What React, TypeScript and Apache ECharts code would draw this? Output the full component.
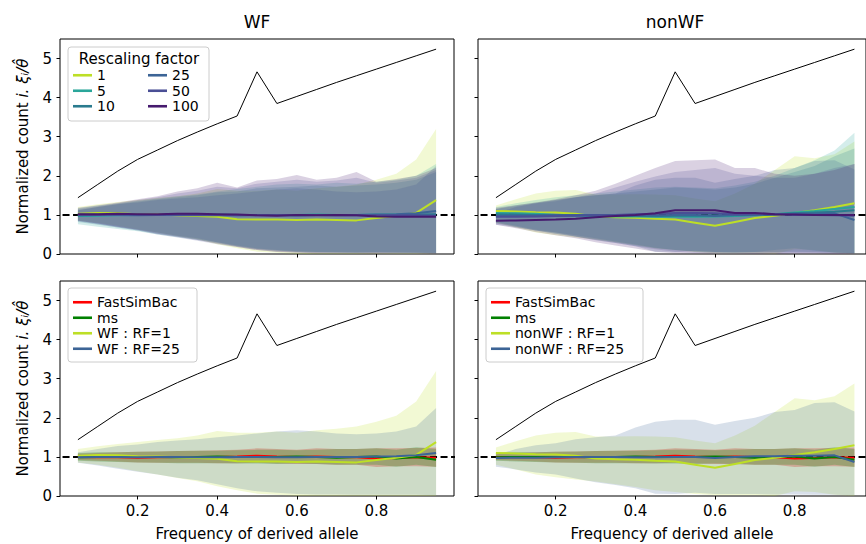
import React, { useEffect, useRef } from "react";
import * as echarts from "echarts";

// ---------- data ----------
const X = [0.05, 0.1, 0.15, 0.2, 0.25, 0.3, 0.35, 0.4, 0.45, 0.5, 0.55, 0.6, 0.65, 0.7, 0.75, 0.8, 0.85, 0.9, 0.95];
const X_TICKS = [0.2, 0.4, 0.6, 0.8];
const Y_TICKS = [0, 1, 2, 3, 4, 5];
const EXPECTED = [1.44, 1.78, 2.12, 2.42, 2.66, 2.9, 3.12, 3.33, 3.53, 4.66, 3.85, 4.03, 4.21, 4.39, 4.56, 4.73, 4.9, 5.07, 5.24];

const RF_NAMES = ["1", "5", "10", "25", "50", "100"];
const RF_COLORS = ["#bddf26", "#2aa69a", "#2a7b8e", "#3c6496", "#4a4f95", "#461a6e"];

// WF (top-left)
const WF1_MEAN = [1.03, 1.05, 1.04, 1.02, 1.01, 0.99, 0.97, 0.95, 0.89, 0.88, 0.88, 0.87, 0.88, 0.87, 0.86, 0.92, 0.98, 1.05, 1.38];
const WF1_HI = [1.2, 1.27, 1.33, 1.38, 1.43, 1.48, 1.55, 1.66, 1.62, 1.62, 1.65, 1.62, 1.68, 1.72, 1.78, 1.9, 2.05, 2.42, 3.2];
const WF1_LO = [0.86, 0.8, 0.72, 0.63, 0.55, 0.46, 0.38, 0.25, 0.15, 0.06, 0.03, 0.0, 0.0, 0.0, 0.0, 0.0, 0.0, 0.0, 0.0];
const WF5_MEAN = [0.97, 0.98, 0.99, 1.0, 1.0, 1.0, 1.01, 1.01, 1.0, 1.0, 1.0, 1.0, 1.01, 1.0, 1.0, 1.01, 1.01, 1.0, 1.0];
const WF5_HI = [1.17, 1.24, 1.3, 1.36, 1.42, 1.48, 1.52, 1.6, 1.66, 1.72, 1.78, 1.8, 1.78, 1.82, 1.8, 1.85, 1.9, 2.0, 2.3];
const WF5_LO = [0.76, 0.7, 0.64, 0.58, 0.5, 0.43, 0.36, 0.28, 0.2, 0.13, 0.09, 0.06, 0.05, 0.04, 0.04, 0.05, 0.04, 0.03, 0.02];
const WF10_MEAN = [1.0, 1.01, 1.0, 1.0, 1.0, 1.0, 1.0, 1.0, 0.99, 1.0, 1.0, 0.99, 1.0, 1.0, 1.0, 1.0, 1.0, 1.01, 1.02];
const WF10_HI = [1.12, 1.2, 1.27, 1.34, 1.4, 1.45, 1.5, 1.58, 1.6, 1.68, 1.7, 1.72, 1.75, 1.72, 1.75, 1.78, 1.82, 1.9, 2.1];
const WF10_LO = [0.82, 0.75, 0.68, 0.6, 0.52, 0.45, 0.38, 0.3, 0.22, 0.14, 0.1, 0.07, 0.05, 0.05, 0.04, 0.04, 0.04, 0.03, 0.03];
const WF25_MEAN = [0.99, 1.0, 1.0, 0.99, 1.0, 1.0, 0.99, 0.99, 1.0, 1.0, 0.99, 0.99, 1.0, 1.0, 1.0, 1.01, 1.02, 1.04, 1.1];
const WF25_HI = [1.12, 1.2, 1.28, 1.32, 1.38, 1.42, 1.45, 1.5, 1.55, 1.6, 1.65, 1.68, 1.65, 1.6, 1.58, 1.6, 1.65, 1.78, 2.25];
const WF25_LO = [0.85, 0.78, 0.7, 0.62, 0.55, 0.47, 0.4, 0.3, 0.2, 0.12, 0.08, 0.05, 0.04, 0.04, 0.03, 0.03, 0.03, 0.03, 0.02];
const WF50_MEAN = [1.01, 1.0, 1.01, 1.01, 1.0, 1.01, 1.0, 1.0, 0.99, 0.99, 1.0, 1.0, 1.0, 0.99, 1.0, 0.99, 0.99, 0.99, 0.98];
const WF50_HI = [1.15, 1.22, 1.3, 1.38, 1.45, 1.55, 1.62, 1.72, 1.68, 1.8, 1.85, 1.9, 1.85, 1.88, 1.95, 1.82, 1.88, 1.95, 2.15];
const WF50_LO = [0.84, 0.76, 0.68, 0.6, 0.5, 0.42, 0.34, 0.25, 0.18, 0.1, 0.06, 0.04, 0.02, 0.02, 0.02, 0.01, 0.01, 0.01, 0.0];
const WF100_MEAN = [1.02, 1.02, 1.03, 1.02, 1.02, 1.03, 1.03, 1.02, 1.01, 0.99, 0.98, 1.0, 0.99, 1.0, 0.99, 0.96, 0.95, 0.95, 0.95];
const WF100_HI = [1.18, 1.25, 1.32, 1.4, 1.48, 1.6, 1.68, 1.82, 1.7, 1.88, 1.92, 2.02, 1.9, 1.95, 2.1, 1.85, 1.92, 2.0, 2.2];
const WF100_LO = [0.85, 0.78, 0.7, 0.62, 0.52, 0.44, 0.36, 0.27, 0.18, 0.1, 0.05, 0.03, 0.02, 0.02, 0.02, 0.01, 0.02, 0.02, 0.0];

// nonWF (top-right)
const NW1_MEAN = [1.1, 1.09, 1.07, 1.06, 1.03, 0.96, 0.94, 0.93, 0.9, 0.88, 0.8, 0.72, 0.82, 0.92, 0.98, 1.05, 1.12, 1.2, 1.3];
const NW1_HI = [1.24, 1.4, 1.55, 1.62, 1.64, 1.52, 1.52, 1.53, 1.52, 1.5, 1.42, 1.35, 1.55, 1.8, 2.15, 2.5, 2.45, 2.55, 2.88];
const NW1_LO = [0.8, 0.68, 0.55, 0.48, 0.42, 0.37, 0.3, 0.23, 0.15, 0.1, 0.05, 0.02, 0.02, 0.02, 0.0, 0.12, 0.1, 0.03, 0.0];
const NW5_MEAN = [1.05, 1.04, 1.03, 1.0, 0.98, 0.97, 0.96, 0.96, 0.95, 0.95, 0.95, 0.96, 0.97, 0.99, 1.02, 1.06, 1.1, 1.15, 1.2];
const NW5_HI = [1.2, 1.3, 1.38, 1.45, 1.5, 1.55, 1.6, 1.65, 1.7, 1.72, 1.7, 1.68, 1.75, 1.85, 2.0, 2.2, 2.4, 2.65, 3.1];
const NW5_LO = [0.8, 0.7, 0.6, 0.52, 0.45, 0.38, 0.3, 0.22, 0.15, 0.1, 0.06, 0.04, 0.03, 0.05, 0.1, 0.15, 0.08, 0.04, 0.02];
const NW10_MEAN = [1.02, 1.01, 1.0, 1.0, 0.99, 0.98, 0.98, 0.97, 0.97, 0.98, 0.98, 0.99, 0.99, 1.0, 1.02, 1.04, 1.06, 1.08, 1.12];
const NW10_HI = [1.15, 1.25, 1.32, 1.38, 1.45, 1.5, 1.55, 1.6, 1.65, 1.7, 1.68, 1.65, 1.7, 1.8, 1.95, 2.1, 2.25, 2.5, 2.7];
const NW10_LO = [0.82, 0.72, 0.62, 0.55, 0.48, 0.4, 0.32, 0.24, 0.16, 0.1, 0.07, 0.05, 0.04, 0.04, 0.05, 0.06, 0.05, 0.03, 0.02];
const NW25_MEAN = [0.97, 0.98, 0.98, 0.99, 1.0, 1.0, 1.0, 0.99, 0.99, 1.0, 1.0, 0.97, 1.0, 1.02, 1.02, 1.03, 1.03, 1.04, 0.87];
const NW25_HI = [1.05, 1.2, 1.3, 1.35, 1.45, 1.5, 1.55, 1.75, 1.9, 1.95, 1.95, 1.82, 1.92, 2.0, 2.15, 2.2, 2.38, 2.4, 2.16];
const NW25_LO = [0.75, 0.68, 0.6, 0.55, 0.45, 0.35, 0.28, 0.2, 0.06, 0.05, 0.08, 0.05, 0.05, 0.05, 0.04, 0.04, 0.03, 0.03, 0.02];
const NW50_MEAN = [0.95, 0.95, 0.96, 0.97, 0.98, 0.99, 1.0, 1.02, 1.03, 1.05, 1.05, 1.04, 1.02, 1.02, 1.01, 1.0, 1.0, 0.99, 0.98];
const NW50_HI = [1.15, 1.22, 1.3, 1.38, 1.45, 1.55, 1.7, 1.85, 1.98, 2.1, 2.15, 2.2, 2.05, 2.0, 1.95, 1.95, 2.05, 2.2, 2.3];
const NW50_LO = [0.78, 0.7, 0.6, 0.52, 0.44, 0.36, 0.28, 0.2, 0.12, 0.06, 0.03, 0.02, 0.02, 0.02, 0.02, 0.02, 0.02, 0.02, 0.0];
const NW100_MEAN = [0.85, 0.86, 0.87, 0.88, 0.9, 0.94, 0.97, 1.0, 1.04, 1.12, 1.12, 1.12, 1.05, 1.05, 1.02, 1.01, 1.0, 1.0, 1.0];
const NW100_HI = [1.18, 1.25, 1.32, 1.4, 1.5, 1.62, 1.8, 2.0, 2.2, 2.38, 2.4, 2.42, 2.2, 2.2, 2.05, 2.0, 2.05, 2.15, 2.3];
const NW100_LO = [0.75, 0.66, 0.56, 0.48, 0.4, 0.3, 0.22, 0.14, 0.06, 0.02, 0.01, 0.01, 0.01, 0.0, 0.0, 0.01, 0.01, 0.0, 0.0];

// coalescent simulators (bottom panels)
const FSB_MEAN = [1.0, 0.99, 0.99, 0.98, 0.99, 1.0, 1.0, 1.0, 1.01, 1.03, 1.01, 1.0, 1.01, 1.0, 0.99, 0.96, 0.97, 0.99, 0.98];
const FSB_HI = [1.08, 1.1, 1.12, 1.13, 1.14, 1.15, 1.16, 1.17, 1.18, 1.22, 1.2, 1.18, 1.22, 1.2, 1.2, 1.22, 1.22, 1.23, 1.24];
const FSB_LO = [0.92, 0.9, 0.88, 0.86, 0.85, 0.85, 0.85, 0.84, 0.84, 0.85, 0.83, 0.82, 0.82, 0.8, 0.8, 0.74, 0.76, 0.76, 0.75];
const MS_MEAN = [0.99, 1.0, 1.0, 1.0, 1.0, 0.99, 1.0, 1.01, 1.0, 1.0, 1.0, 1.01, 1.0, 0.98, 1.0, 1.01, 0.96, 1.0, 0.93];
const MS_HI = [1.1, 1.12, 1.12, 1.13, 1.14, 1.15, 1.16, 1.16, 1.17, 1.18, 1.18, 1.17, 1.18, 1.2, 1.2, 1.22, 1.18, 1.25, 1.2];
const MS_LO = [0.9, 0.88, 0.87, 0.86, 0.85, 0.84, 0.84, 0.84, 0.83, 0.83, 0.82, 0.83, 0.82, 0.8, 0.8, 0.8, 0.75, 0.8, 0.74];

const FONT = "DejaVu Sans";

type Set = { name: string; mean: number[]; hi: number[]; lo: number[]; color: string; alpha: number };

const WF_SETS: Set[] = [
  { name: "1", mean: WF1_MEAN, hi: WF1_HI, lo: WF1_LO, color: RF_COLORS[0], alpha: 0.2 },
  { name: "5", mean: WF5_MEAN, hi: WF5_HI, lo: WF5_LO, color: RF_COLORS[1], alpha: 0.2 },
  { name: "10", mean: WF10_MEAN, hi: WF10_HI, lo: WF10_LO, color: RF_COLORS[2], alpha: 0.2 },
  { name: "25", mean: WF25_MEAN, hi: WF25_HI, lo: WF25_LO, color: RF_COLORS[3], alpha: 0.2 },
  { name: "50", mean: WF50_MEAN, hi: WF50_HI, lo: WF50_LO, color: RF_COLORS[4], alpha: 0.2 },
  { name: "100", mean: WF100_MEAN, hi: WF100_HI, lo: WF100_LO, color: RF_COLORS[5], alpha: 0.2 },
];
const NW_SETS: Set[] = [
  { name: "1", mean: NW1_MEAN, hi: NW1_HI, lo: NW1_LO, color: RF_COLORS[0], alpha: 0.2 },
  { name: "5", mean: NW5_MEAN, hi: NW5_HI, lo: NW5_LO, color: RF_COLORS[1], alpha: 0.2 },
  { name: "10", mean: NW10_MEAN, hi: NW10_HI, lo: NW10_LO, color: RF_COLORS[2], alpha: 0.2 },
  { name: "25", mean: NW25_MEAN, hi: NW25_HI, lo: NW25_LO, color: RF_COLORS[3], alpha: 0.2 },
  { name: "50", mean: NW50_MEAN, hi: NW50_HI, lo: NW50_LO, color: RF_COLORS[4], alpha: 0.2 },
  { name: "100", mean: NW100_MEAN, hi: NW100_HI, lo: NW100_LO, color: RF_COLORS[5], alpha: 0.2 },
];
const BL_SETS: Set[] = [
  { name: "FastSimBac", mean: FSB_MEAN, hi: FSB_HI, lo: FSB_LO, color: "#ff0000", alpha: 0.3 },
  { name: "ms", mean: MS_MEAN, hi: MS_HI, lo: MS_LO, color: "#008000", alpha: 0.3 },
  { name: "WF : RF=1", mean: WF1_MEAN, hi: WF1_HI, lo: WF1_LO, color: RF_COLORS[0], alpha: 0.2 },
  { name: "WF : RF=25", mean: WF25_MEAN, hi: WF25_HI, lo: WF25_LO, color: RF_COLORS[3], alpha: 0.2 },
];
const BR_SETS: Set[] = [
  { name: "FastSimBac", mean: FSB_MEAN, hi: FSB_HI, lo: FSB_LO, color: "#ff0000", alpha: 0.3 },
  { name: "ms", mean: MS_MEAN, hi: MS_HI, lo: MS_LO, color: "#008000", alpha: 0.3 },
  { name: "nonWF : RF=1", mean: NW1_MEAN, hi: NW1_HI, lo: NW1_LO, color: RF_COLORS[0], alpha: 0.2 },
  { name: "nonWF : RF=25", mean: NW25_MEAN, hi: NW25_HI, lo: NW25_LO, color: RF_COLORS[3], alpha: 0.2 },
];

const PANELS = [
  { grid: { left: 60, top: 39, width: 394, height: 215 }, xmax: 0.995, bottom: false, leftCol: true, sets: WF_SETS },
  { grid: { left: 478, top: 39, width: 388, height: 215 }, xmax: 0.979, bottom: false, leftCol: false, sets: NW_SETS },
  { grid: { left: 60, top: 281, width: 394, height: 215 }, xmax: 0.995, bottom: true, leftCol: true, sets: BL_SETS },
  { grid: { left: 478, top: 281, width: 388, height: 215 }, xmax: 0.979, bottom: true, leftCol: false, sets: BR_SETS },
];

function bandSeries(p: number, s: Set, key: string) {
  const lo = s.lo;
  const hi = s.hi;
  return {
    type: "custom",
    name: "band-" + key,
    xAxisIndex: p,
    yAxisIndex: p,
    silent: true,
    clip: true,
    data: X.map((x, i) => [x, lo[i], hi[i]]),
    encode: { x: 0, y: [1, 2] },
    renderItem: (params: any, api: any) => {
      if (params.dataIndex !== 0) return null;
      const pts: number[][] = [];
      for (let i = 0; i < X.length; i++) pts.push(api.coord([X[i], hi[i]]));
      for (let i = X.length - 1; i >= 0; i--) pts.push(api.coord([X[i], lo[i]]));
      return {
        type: "polygon",
        shape: { points: pts },
        style: { fill: s.color, opacity: s.alpha, stroke: "none" },
        silent: true,
      };
    },
  };
}

function lineSeries(p: number, name: string, ys: number[], color: string, width: number) {
  return {
    type: "line",
    name,
    xAxisIndex: p,
    yAxisIndex: p,
    data: X.map((x, i) => [x, ys[i]]),
    symbol: "none",
    showSymbol: false,
    silent: true,
    lineStyle: { color, width },
    itemStyle: { color },
  };
}

function legendCol(names: string[], left: number, top: number) {
  return {
    data: names,
    orient: "vertical",
    left,
    top,
    padding: 0,
    itemGap: 0,
    icon: "rect",
    itemWidth: 19,
    itemHeight: 2.6,
    selectedMode: false,
    z: 20,
    textStyle: { fontFamily: FONT, fontSize: 14, color: "#000", lineHeight: 15.5 },
  };
}

export default function App() {
  const ref = useRef<HTMLDivElement>(null);
  useEffect(() => {
    if (!ref.current) return;
    const chart = echarts.init(ref.current, undefined, { renderer: "svg" });

    const series: any[] = [];
    PANELS.forEach((pn, p) => {
      series.push({
        type: "line",
        name: "ref-line",
        xAxisIndex: p,
        yAxisIndex: p,
        data: [[-0.015, 1], [1.0, 1]],
        clip: false,
        symbol: "none",
        silent: true,
        lineStyle: { color: "#000", width: 2, type: [7, 3.5] },
      });
      pn.sets.forEach((s, k) => series.push(bandSeries(p, s, p + "-" + k)));
      pn.sets.forEach((s) => series.push(lineSeries(p, s.name, s.mean, s.color, 2)));
      series.push(lineSeries(p, "expected", EXPECTED, "#000", 1));
    });

    const grid = PANELS.map((pn) => ({
      ...pn.grid,
      show: true,
      borderColor: "#000",
      borderWidth: 1,
      backgroundColor: "transparent",
    }));

    const xAxis = PANELS.map((pn, p) => ({
      gridIndex: p,
      type: "value",
      min: 0.005,
      max: pn.xmax,
      axisLine: { show: false },
      splitLine: { show: false },
      axisTick: { show: true, length: 3.5, lineStyle: { color: "#000", width: 1 }, customValues: X_TICKS },
      axisLabel: {
        show: pn.bottom,
        customValues: X_TICKS,
        color: "#000",
        fontFamily: FONT,
        fontSize: 15,
        margin: 7,
        formatter: (v: number) => v.toFixed(1),
      },
      name: pn.bottom ? "Frequency of derived allele" : "",
      nameLocation: "middle",
      nameGap: 30,
      nameTextStyle: { fontFamily: FONT, fontSize: 15, color: "#000" },
    }));

    const yAxis = PANELS.map((pn, p) => ({
      gridIndex: p,
      type: "value",
      min: 0,
      max: 5.5,
      axisLine: { show: false },
      splitLine: { show: false },
      axisTick: { show: true, length: 3.5, lineStyle: { color: "#000", width: 1 }, customValues: Y_TICKS },
      axisLabel: {
        show: pn.leftCol,
        customValues: Y_TICKS,
        color: "#000",
        fontFamily: FONT,
        fontSize: 15,
        margin: 8,
      },
      name: pn.leftCol ? "Normalized count {it|i. ξᵢ/θ̂}" : "",
      nameLocation: "middle",
      nameRotate: 90,
      nameGap: 30,
      nameTextStyle: {
        fontFamily: FONT,
        fontSize: 15,
        color: "#000",
        rich: { it: { fontFamily: FONT, fontSize: 15, fontStyle: "italic", color: "#000" } },
      },
    }));

    const legend = [
      legendCol(["1", "5", "10"], 73, 67.5),
      legendCol(["25", "50", "100"], 148, 67.5),
      legendCol(["FastSimBac", "ms", "WF : RF=1", "WF : RF=25"], 73, 294.5),
      legendCol(["FastSimBac", "ms", "nonWF : RF=1", "nonWF : RF=25"], 491, 294.5),
    ];

    const boxStyle = { fill: "rgba(255,255,255,0.8)", stroke: "#cccccc", lineWidth: 1 };
    const graphic = [
      { type: "rect", z: 10, silent: true, shape: { x: 68, y: 47, width: 141, height: 74, r: 3 }, style: boxStyle },
      { type: "rect", z: 10, silent: true, shape: { x: 68, y: 288, width: 129, height: 74, r: 3 }, style: boxStyle },
      { type: "rect", z: 10, silent: true, shape: { x: 486, y: 288, width: 157, height: 74, r: 3 }, style: boxStyle },
      {
        type: "text", z: 20, silent: true, x: 139, y: 59,
        style: { text: "Rescaling factor", align: "center", verticalAlign: "middle", fontFamily: FONT, fontSize: 15, fill: "#000" },
      },
      {
        type: "text", z: 20, silent: true, x: 257, y: 22,
        style: { text: "WF", align: "center", verticalAlign: "middle", fontFamily: FONT, fontSize: 17, fill: "#000" },
      },
      {
        type: "text", z: 20, silent: true, x: 675, y: 22,
        style: { text: "nonWF", align: "center", verticalAlign: "middle", fontFamily: FONT, fontSize: 17, fill: "#000" },
      },
    ];

    chart.setOption({
      animation: false,
      backgroundColor: "#ffffff",
      grid,
      xAxis,
      yAxis,
      legend,
      graphic,
      series,
    } as any);

    return () => chart.dispose();
  }, []);

  return (
    <div
      ref={ref}
      style={{ position: "fixed", left: 0, top: 0, width: 866, height: 544 }}
    />
  );
}
